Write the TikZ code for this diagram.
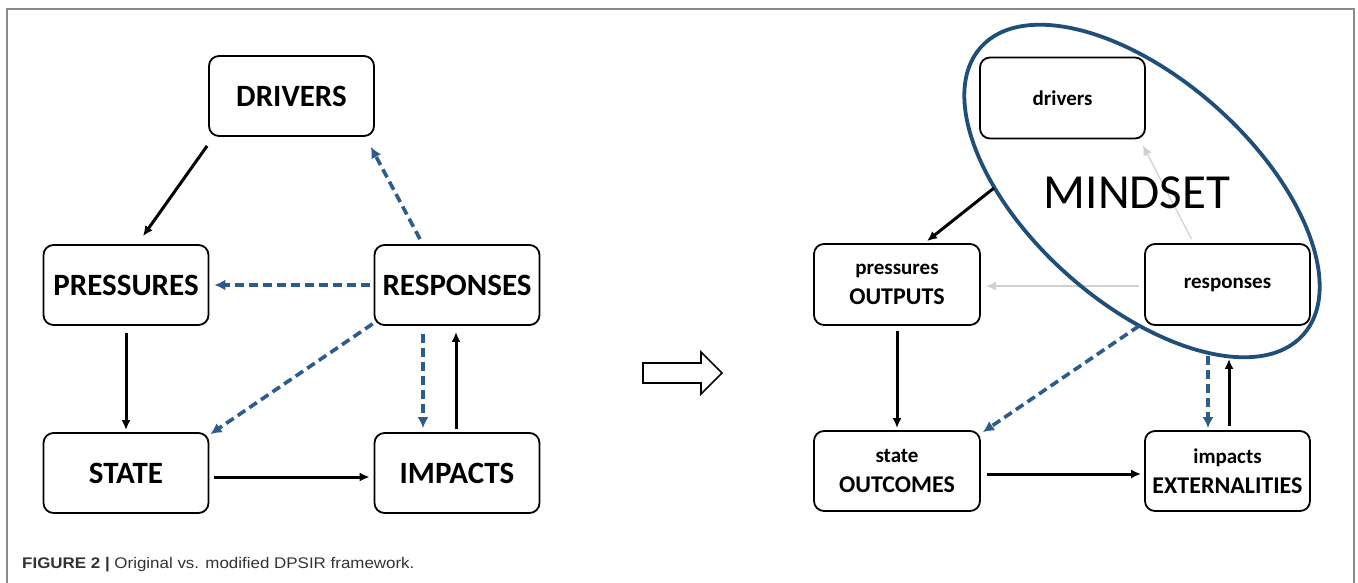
\documentclass[tikz,border=0pt]{standalone}
\usepackage{fontspec}
\setmainfont{Carlito}
\newfontfamily\capfont[FakeStretch=1.1]{Liberation Sans}
\usetikzlibrary{arrows.meta,calc}
\definecolor{dblue}{HTML}{1F4E79}
\definecolor{dashblue}{HTML}{2B5C8C}
\definecolor{lgray}{HTML}{D0D0D0}
\definecolor{framegray}{HTML}{8A8A8A}
\definecolor{captxt}{HTML}{333333}
\begin{document}
\begin{tikzpicture}[x=1pt,y=-1pt,
 box/.style={draw=black, line width=1.8pt, rounded corners=10pt, minimum width=165pt, minimum height=80pt, inner sep=0pt, align=center},
 bigtxt/.style={font=\fontsize{31}{31}\selectfont\bfseries},
 smalltxt/.style={font=\fontsize{24}{30}\selectfont\bfseries},
 solidarrow/.style={black, line width=3pt, -{Latex[length=10pt,width=9pt]}},
 dasharrow/.style={dashblue, line width=3.6pt, dash pattern=on 9pt off 5pt, -{Latex[length=11pt,width=11pt]}},
 grayarrow/.style={lgray, line width=1.2pt, -{Latex[length=10pt,width=9pt]}},
 ringline/.style={dblue, line width=3.8pt},
 framel/.style={framegray, line width=1.2pt},
]
\useasboundingbox (0,0) rectangle (1358,583);
\fill[white] (0,0) rectangle (1358,583);
% frame
\draw[framel] (7,583) -- (7,9) -- (1354,9) -- (1354,583);

% ---------- left diagram ----------
\node[box, bigtxt] (D) at (291.5,96) {DRIVERS};
\node[box, bigtxt] (P) at (126,285) {PRESSURES};
\node[box, bigtxt] (R) at (457,285) {RESPONSES};
\node[box, bigtxt] (S) at (126,473) {STATE};
\node[box, bigtxt] (I) at (457,473) {IMPACTS};

\draw[solidarrow] ([shift={(-1,9)}]D.south west) -- ([shift={(17,-8)}]P.north);
\draw[dasharrow] ([shift={(-37,-5)}]R.north) -- ([shift={(-4,10)}]D.south east);
\draw[dasharrow] ([xshift=-4pt]R.west) -- ([xshift=5pt]P.east);
\draw[solidarrow] ([yshift=-7pt]P.south) -- ([yshift=2pt]S.north);
\draw[dasharrow] ([shift={(-1,-2)}]R.south west) -- ([shift={(1,2)}]S.north east);
\draw[dasharrow] ([shift={(-34,8)}]R.south) -- ([shift={(-34,-4)}]I.north);
\draw[solidarrow] ([shift={(-1,-3)}]I.north) -- ([shift={(-1,6)}]R.south);
\draw[solidarrow] ([shift={(5,4)}]S.east) -- ([shift={(-4,4)}]I.west);

% ---------- hollow arrow ----------
\draw[black, line width=1.6pt, fill=white] (643,363) -- (701,363) -- (701,352) -- (722,373) -- (701,394) -- (701,383) -- (643,383) -- cycle;

% ---------- right diagram ----------
\node[box, smalltxt, minimum width=165pt, minimum height=81pt] (d) at (1062.5,98) {\fontsize{21}{30}\selectfont drivers};
\node[box, smalltxt, minimum width=166pt, minimum height=81pt] (p) at (897,284.5) {{\fontsize{21}{30}\selectfont pressures}\\OUTPUTS};
\node[box, smalltxt, minimum width=165pt, minimum height=81pt] (r) at (1227.5,284.5) {\fontsize{21}{30}\selectfont responses};
\node[box, smalltxt, minimum width=166pt, minimum height=80pt] (s) at (897,471) {{\fontsize{21}{30}\selectfont state}\\OUTCOMES};
\node[box, smalltxt, minimum width=165pt, minimum height=80pt] (i) at (1227.5,471) {{\fontsize{21}{30}\selectfont impacts}\\EXTERNALITIES};

\coordinate (e1) at (994,188);

\draw[grayarrow] ([shift={(-36,-4)}]r.north) -- ([shift={(-3,6)}]d.south east);
\draw[grayarrow] ([shift={(-5,1.5)}]r.west) -- ([shift={(5,1.5)}]p.east);

\draw[ringline, rotate around={-41.7:(1142,191)}] (1142,191) ellipse [x radius=216pt, y radius=112pt];

\node[font=\fontsize{49}{49}\selectfont] (mind) at (1137,193) {MINDSET};

\draw[solidarrow] (e1) -- ([shift={(30,-2)}]p.north);
\draw[solidarrow] ([yshift=-5pt]p.south) -- ([yshift=2pt]s.north);
\draw[dasharrow] ([shift={(-5,0)}]r.south west) -- ([shift={(2,2)}]s.north east);
\draw[dasharrow] ([shift={(-19.5,30)}]r.south) -- ([shift={(-19.5,-2)}]i.north);
\draw[solidarrow] ([shift={(1.5,-4)}]i.north) -- ([shift={(1.5,33)}]r.south);
\draw[solidarrow] ([shift={(6,3)}]s.east) -- ([shift={(-3,3)}]i.west);

% ---------- caption ----------
\node[anchor=base west, inner sep=0pt, text=captxt, font=\fontsize{15.4}{17}\capfont] (cap) at (22,568) {\textbf{FIGURE 2 |} Original vs. modified DPSIR framework.};
\end{tikzpicture}
\end{document}
